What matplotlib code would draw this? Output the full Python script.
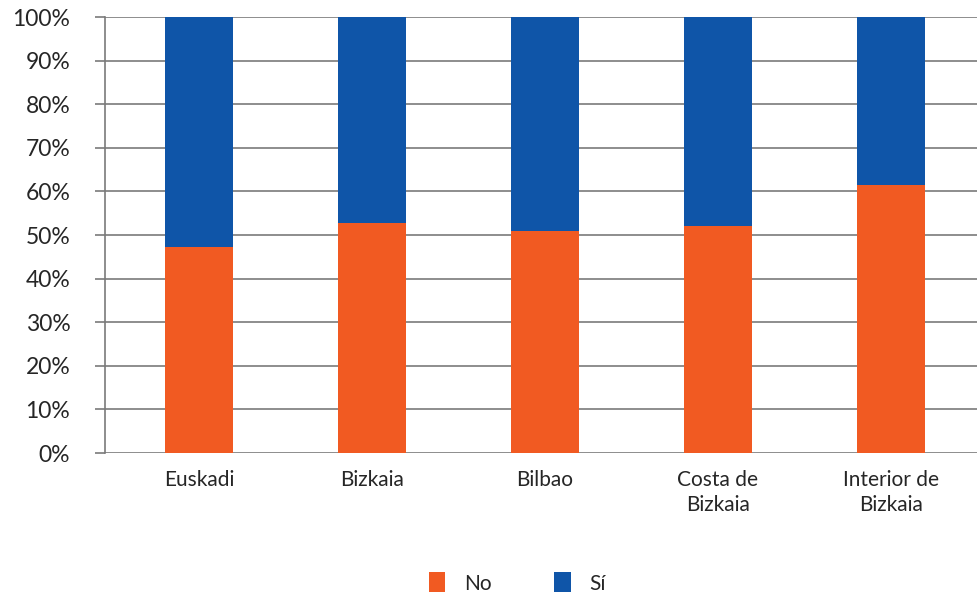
import matplotlib
matplotlib.use("Agg")
import matplotlib.pyplot as plt
import numpy as np
from matplotlib.ticker import PercentFormatter

plt.rcParams['font.family'] = ['Lato', 'DejaVu Sans']

# datos
categorias = ["Euskadi", "Bizkaia", "Bilbao", "Costa de\nBizkaia", "Interior de\nBizkaia"]
no = [47.3, 52.7, 50.9, 52.1, 61.5]
si = [100 - v for v in no]

color_no = "#F15A22"
color_si = "#0F55A8"
gris = "#7a7a7a"
texto = "#262626"

fig = plt.figure(figsize=(9.78, 6.03), dpi=100)
ax = fig.add_axes([105 / 978, 1 - 453 / 603, 873 / 978, 436 / 603])

x = np.arange(len(categorias))
ax.bar(x, no, width=0.39, color=color_no, label="No", zorder=3)
ax.bar(x, si, width=0.39, bottom=no, color=color_si, label="Sí", zorder=3)

ax.set_ylim(0, 100)
ax.set_xlim(-0.543, 4.503)
ax.set_yticks(np.arange(0, 101, 10))
ax.yaxis.set_major_formatter(PercentFormatter(decimals=0))
ax.grid(axis="y", color=gris, linewidth=1.2, zorder=0)
ax.set_xticks(x)
ax.set_xticklabels(categorias, fontsize=15, color=texto, linespacing=1.35)
ax.tick_params(axis="x", length=0, pad=12)
ax.tick_params(axis="y", length=7, width=1.2, color=gris, labelsize=16.5,
               labelcolor=texto, pad=18)

for s in ["top", "right", "bottom"]:
    ax.spines[s].set_visible(False)
ax.spines["left"].set_color(gris)
ax.spines["left"].set_linewidth(1.2)

fig.legend(loc="center", bbox_to_anchor=(0.529, 1 - 583 / 603), ncol=2, frameon=False,
           fontsize=15, handlelength=0.8, handleheight=1.1, columnspacing=3.0,
           handletextpad=0.9, labelcolor=texto)

fig.savefig("out.png", dpi=100)
